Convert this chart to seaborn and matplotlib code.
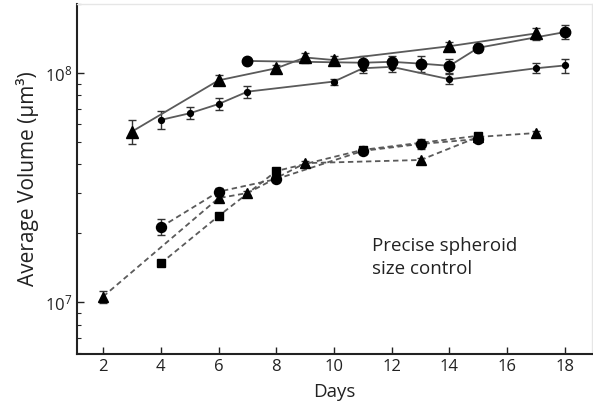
import numpy as np
import pandas as pd
import matplotlib
matplotlib.use('Agg')
import matplotlib.pyplot as plt
import seaborn as sns
from matplotlib.ticker import LogLocator, LogFormatterSciNotation, NullFormatter

# solid series (top group)
tri_solid_days = [3, 6, 8, 9, 10, 14, 17]
tri_solid_vals = [5.56e7, 9.3e7, 1.05e8, 1.17e8, 1.14e8, 1.31e8, 1.49e8]
tri_solid_err = [0.12, 0.05, 0.03, 0.05, 0.04, 0.04, 0.06]

circ_solid_days = [7, 11, 12, 13, 14, 15, 18]
circ_solid_vals = [1.13e8, 1.11e8, 1.12e8, 1.10e8, 1.076e8, 1.29e8, 1.51e8]
circ_solid_err = [0.03, 0.07, 0.06, 0.08, 0.07, 0.04, 0.07]

dot_solid_days = [4, 5, 6, 7, 10, 11, 12, 14, 17, 18]
dot_solid_vals = [6.25e7, 6.68e7, 7.33e7, 8.3e7, 9.19e7, 1.05e8, 1.065e8, 9.4e7, 1.05e8, 1.08e8]
dot_solid_err = [0.09, 0.06, 0.06, 0.06, 0.03, 0.05, 0.05, 0.05, 0.05, 0.07]

# dashed series (bottom group)
circ_dash_days = [4, 6, 8, 11, 13, 15]
circ_dash_vals = [2.13e7, 3.04e7, 3.45e7, 4.58e7, 4.91e7, 5.16e7]
circ_dash_err = [0.08, 0.04, 0.03, 0.03, 0.05, 0.03]

sq_dash_days = [4, 6, 8, 11, 15]
sq_dash_vals = [1.48e7, 2.38e7, 3.74e7, 4.63e7, 5.33e7]
sq_dash_err = [0.02, 0.02, 0.03, 0.02, 0.03]

tri_dash_days = [2, 6, 7, 9, 13, 15, 17]
tri_dash_vals = [1.06e7, 2.85e7, 3.0e7, 4.05e7, 4.18e7, 5.27e7, 5.48e7]
tri_dash_err = [0.06, 0.02, 0.02, 0.02, 0.02, 0.02, 0.02]

x_ticks = [2, 4, 6, 8, 10, 12, 14, 16, 18]

sns.set_style('ticks')
plt.rcParams['font.family'] = ['Open Sans', 'DejaVu Sans']
plt.rcParams['mathtext.fontset'] = 'custom'
plt.rcParams['mathtext.rm'] = 'Open Sans'
plt.rcParams['mathtext.it'] = 'Open Sans'
plt.rcParams['mathtext.bf'] = 'Open Sans'

fig = plt.figure(figsize=(5.93, 4.08), dpi=100)
ax = fig.add_axes([0.130, 0.132, 0.868, 0.858])

line_col = '#5a5a5a'
# days, values, relative error, marker, size, line style
series = [
    (tri_solid_days, tri_solid_vals, tri_solid_err, '^', 8, '-'),
    (circ_solid_days, circ_solid_vals, circ_solid_err, 'o', 7.5, '-'),
    (dot_solid_days, dot_solid_vals, dot_solid_err, 'o', 4.2, '-'),
    (circ_dash_days, circ_dash_vals, circ_dash_err, 'o', 7.2, '--'),
    (sq_dash_days, sq_dash_vals, sq_dash_err, 's', 6.2, '--'),
    (tri_dash_days, tri_dash_vals, tri_dash_err, '^', 7.5, '--'),
]

for days, vals, errs, mk, ms, ls in series:
    df = pd.DataFrame({'day': days, 'vol': vals})
    yerr = np.array(vals) * np.array(errs)
    ax.errorbar(days, vals, yerr=yerr, fmt='none', ecolor='#333333',
                elinewidth=1.0, capsize=3, capthick=1.0, zorder=2)
    sns.lineplot(data=df, x='day', y='vol', ax=ax, color=line_col,
                 linewidth=1.3, estimator=None, sort=False, zorder=3)
    if ls == '--':
        ax.lines[-1].set_dashes((3, 2))
    ax.plot(days, vals, linestyle='none', marker=mk, markersize=ms,
            color='black', zorder=4)

ax.set_yscale('log')
ax.set_ylim(5.95e6, 2.0e8)
ax.set_xlim(1.1, 18.93)
ax.set_xticks(x_ticks)
ax.yaxis.set_major_locator(LogLocator(base=10))
ax.yaxis.set_major_formatter(LogFormatterSciNotation())
ax.yaxis.set_minor_locator(LogLocator(base=10, subs=np.arange(2, 10)))
ax.yaxis.set_minor_formatter(NullFormatter())

ax.tick_params(axis='both', which='major', direction='in', length=5, width=1,
               labelsize=12, colors='#222222')
ax.tick_params(axis='y', which='minor', direction='in', length=3, width=0.8)
ax.tick_params(axis='x', which='minor', bottom=False)

for side in ['left', 'bottom']:
    ax.spines[side].set_color('#222222')
    ax.spines[side].set_linewidth(1.5)
for side in ['top', 'right']:
    ax.spines[side].set_color('#e6e6e6')
    ax.spines[side].set_linewidth(1.0)

ax.set_xlabel('Days', fontsize=13.5, color='#222222', labelpad=6)
ax.set_ylabel('Average Volume (μm³)', fontsize=15, color='#222222', labelpad=4)

ax.text(11.3, 1.57e7, 'Precise spheroid\nsize control', fontsize=13.5,
        color='#222222', ha='left', va='center', linespacing=1.3)

fig.savefig('out.png', dpi=100)
